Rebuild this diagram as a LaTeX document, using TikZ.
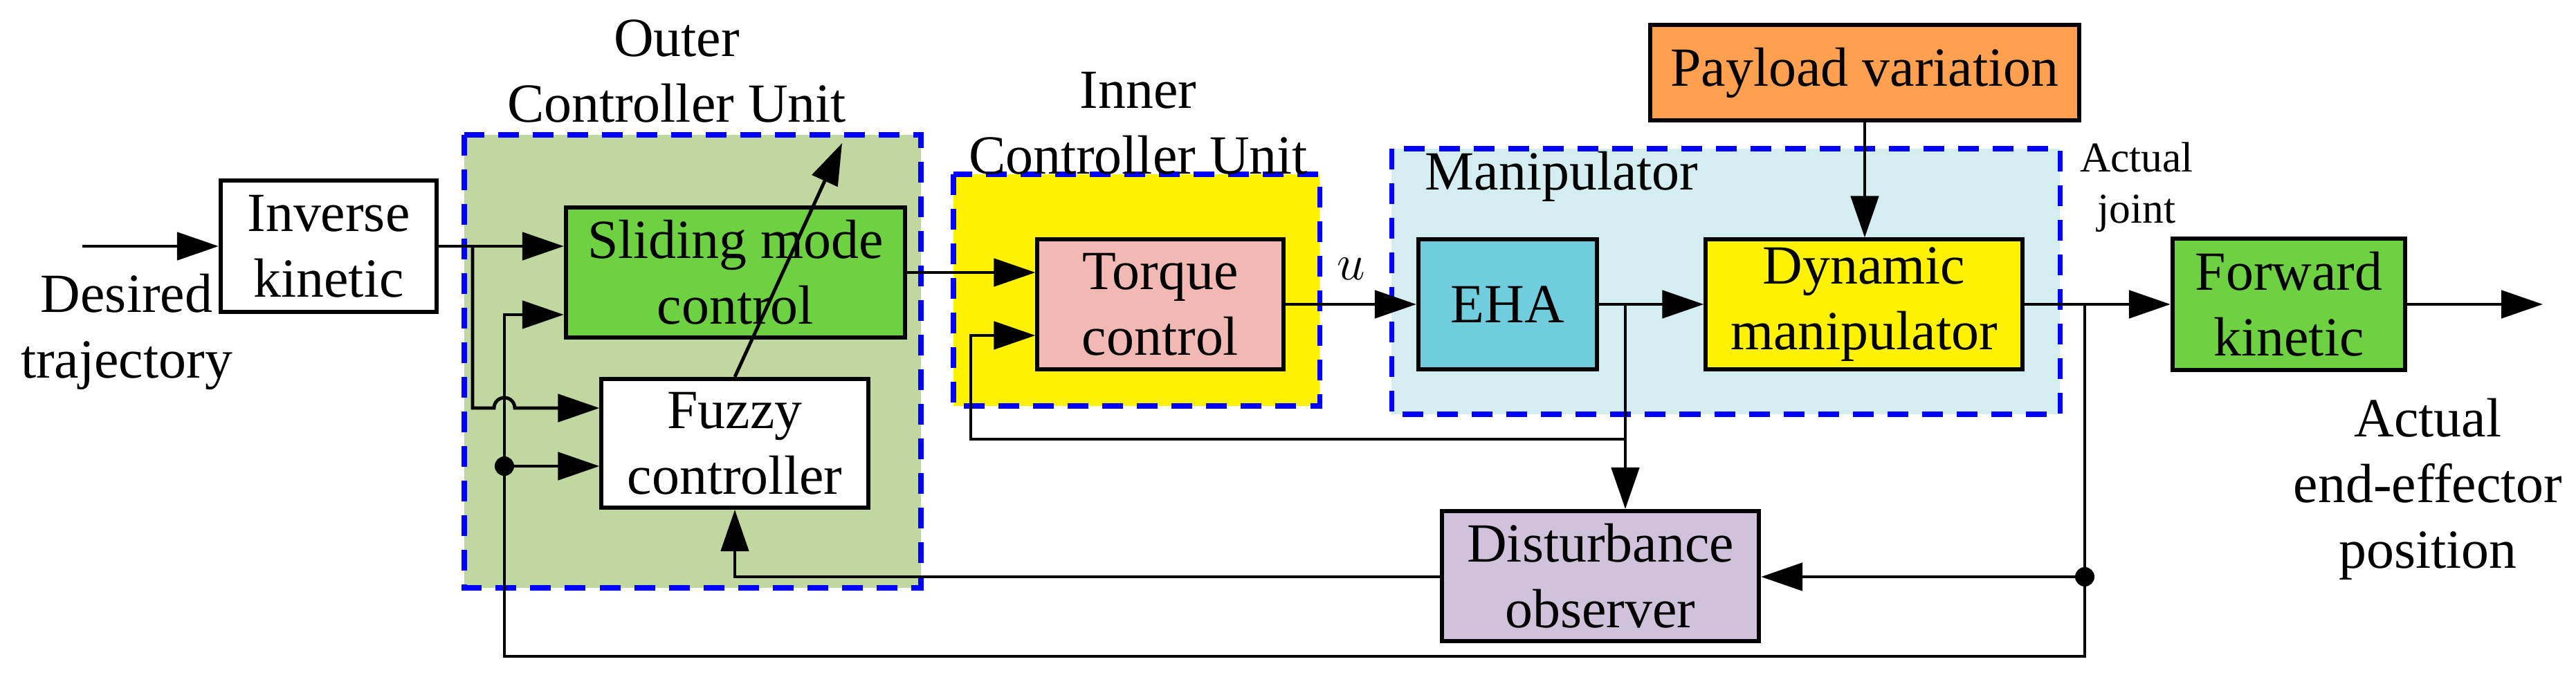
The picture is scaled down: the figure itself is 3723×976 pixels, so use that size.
\documentclass[tikz,border=0pt]{standalone}
\usepackage{fontspec}
\setmainfont{Liberation Serif}
\usetikzlibrary{arrows.meta,positioning,calc}
\definecolor{outergreen}{HTML}{C0D8A0}
\definecolor{smcgreen}{HTML}{6DD142}
\definecolor{torquepink}{HTML}{F2B8B4}
\definecolor{ehablue}{HTML}{70CDDD}
\definecolor{maniblue}{HTML}{D4EDF1}
\definecolor{payorange}{HTML}{FF9F50}
\definecolor{distpurple}{HTML}{D1C2DC}
\begin{document}
\begin{tikzpicture}[x=0.01cm,y=-0.01cm,line width=1.4pt,
    font=\fontsize{22.7}{27}\selectfont,
    >={Triangle[length=0.6cm,width=0.4cm]}]

		% Styles for the blocks
		\tikzstyle{block}=[draw,line width=1.7pt,align=center,inner sep=0pt]
		\tikzstyle{unit}=[draw=blue,dash pattern=on 0.3cm off 0.2cm,line width=2pt]
		\tikzstyle{dot}=[circle,fill,inner sep=0pt,minimum size=0.28cm]

		\useasboundingbox (0,0) rectangle (3723,976);

		% Controller units
		\draw[unit,fill=outergreen] (671,195) rectangle (1331,850);
		\draw[unit,fill=yellow] (1378,252) rectangle (1907,587);
		\draw[unit,fill=maniblue] (2011,215) rectangle (2977,599);
		\node[align=center] (outertitle) at (978,103) {Outer\\Controller Unit};
		\node[align=center] (innertitle) at (1645,178) {Inner\\Controller Unit};
		\node (manititle) at (2257,255) {Manipulator};

		% Blocks
		\node[block,minimum width=3.12cm,minimum height=1.89cm] (inv) at (475,356) {Inverse\\kinetic};
		\node[block,fill=smcgreen,minimum width=4.9cm,minimum height=1.88cm] (smc) at (1063,394) {Sliding mode\\control};
		\node[block,fill=white,minimum width=3.85cm,minimum height=1.86cm] (fuzzy) at (1062,641) {Fuzzy\\controller};
		\node[block,fill=torquepink,minimum width=3.55cm,minimum height=1.87cm] (torque) at (1677,440) {Torque\\control};
		\node[block,fill=ehablue,minimum width=2.58cm,minimum height=1.87cm] (eha) at (2179,440) {EHA};
		\node[block,fill=yellow,minimum width=4.57cm,minimum height=1.87cm] (dyn) at (2694,440) {Dynamic\\manipulator};
		\node[block,fill=payorange,minimum width=6.2cm,minimum height=1.37cm] (pay) at (2695,105) {Payload variation};
		\node[block,fill=distpurple,minimum width=4.58cm,minimum height=1.88cm] (dist) at (2313,833) {Disturbance\\observer};
		\node[block,fill=smcgreen,minimum width=3.36cm,minimum height=1.89cm] (fwd) at (3308,440) {Forward\\kinetic};

		% Labels
		\node[align=center] (desired) at (183,480) {Desired\\trajectory};
		\node[align=center,font=\fontsize{17.5}{21}\selectfont] (joint) at (3088,271) {Actual\\joint};
		\node[align=center] (actual) at (3509,707) {Actual\\end-effector\\position};
		\node (u) at (1953,389) {$u$};

		% Branch points
		\coordinate (start) at (119,356);
		\coordinate (sbr) at (683,356);
		\coordinate (fbl) at (729,949);
		\coordinate (fdot) at (729,674);
		\coordinate (jbr) at (3013,440);
		\coordinate (jdot) at (3013,834);
		\coordinate (ebr) at (2349,440);
		\coordinate (tbr) at (2349,635);
		\coordinate (fend) at (3675,440);
		\coordinate (tune) at (1217,207);

		% Forward path
		\draw[->] (start) -- (inv.west |- start);
		\draw[->] (inv.east |- sbr) -- (smc.west |- sbr);
		\draw[->] (sbr) -- (683,590) -- (714,590) arc[start angle=180,end angle=0,radius=0.15cm] -- (fuzzy.west |- 0,590);
		\draw[->] (smc.east |- 0,394) -- (torque.west |- 0,394);
		\draw[->] (torque.east) -- (eha.west);
		\draw[->] (eha.east) -- (dyn.west);
		\draw[->] (pay.south) -- (dyn.north -| pay.south);
		\draw[->] (dyn.east) -- (fwd.west);
		\draw[->] (fwd.east) -- (fend);
		\draw[->] (fuzzy.north) -- (tune);

		% Feedback paths
		\draw[->] (jbr) -- (fbl -| jbr) -- (fbl) -- (729,455) -- (smc.west |- 0,455);
		\draw[->] (fdot) -- (fuzzy.west |- fdot);
		\draw[->] (jdot) -- (dist.east |- jdot);
		\draw[->] (dist.west |- jdot) -- (fuzzy.south |- jdot) -- (fuzzy.south);
		\draw[->] (ebr) -- (ebr |- dist.north);
		\draw[->] (tbr) -- (1403,635) -- (1403,485) -- (torque.west |- 0,485);
		\node[dot] at (fdot) {};
		\node[dot] at (jdot) {};

	\end{tikzpicture}
\end{document}
